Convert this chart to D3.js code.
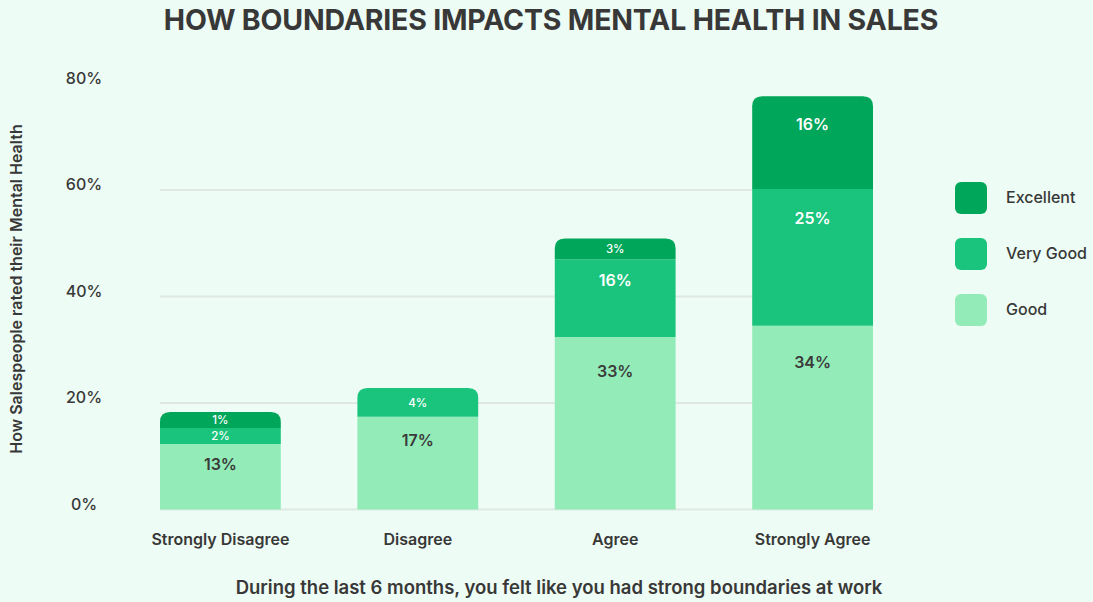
<!DOCTYPE html>
<html>
<head>
<meta charset="utf-8">
<script src="https://cdn.jsdelivr.net/npm/d3@7"></script>
<style>
  html, body { margin: 0; padding: 0; background: #edfcf4; }
  svg { display: block; }
  text { font-family: Inter, "Open Sans", sans-serif; fill: #383838; }
</style>
</head>
<body>
<svg id="chart" width="1093" height="602"></svg>
<script>
// ---- data ----
const categories = ["Strongly Disagree", "Disagree", "Agree", "Strongly Agree"];
const seriesNames = ["Good", "Very Good", "Excellent"];
const good = [12.3, 17.4, 32.4, 34.5];
const veryGood = [3.0, 5.4, 14.6, 25.7];
const excellent = [3.0, 0, 3.9, 17.4];
const goodLabels = ["13%", "17%", "33%", "34%"];
const veryGoodLabels = ["2%", "4%", "16%", "25%"];
const excellentLabels = ["1%", "", "3%", "16%"];
const yTicks = [0, 20, 40, 60, 80];
const colors = ["#93ecb8", "#1bc47d", "#00a65a"];
const legendOrder = ["Excellent", "Very Good", "Good"];

const svg = d3.select("#chart");

const x = d3.scaleBand().domain(categories).range([160, 873]).paddingInner(0.388).paddingOuter(0);
const y = d3.scaleLinear().domain([0, 80]).range([509.5, 83.5]);

// gridlines
svg.append("g").selectAll("line").data(yTicks.filter(d => d < 80)).join("line")
  .attr("x1", 160).attr("x2", 873)
  .attr("y1", d => y(d)).attr("y2", d => y(d))
  .attr("stroke", "#e0e8e3").attr("stroke-width", 2);

// y tick labels
svg.append("g").selectAll("text").data(yTicks).join("text")
  .attr("x", 84).attr("y", d => y(d) - 4)
  .attr("text-anchor", "middle").attr("dominant-baseline", "middle")
  .style("font-size", "16px").style("font-weight", 500)
  .text(d => d + "%");

// stacked data
const rows = categories.map((c, i) => ({ cat: c, Good: good[i], "Very Good": veryGood[i], Excellent: excellent[i],
  labels: { Good: goodLabels[i], "Very Good": veryGoodLabels[i], Excellent: excellentLabels[i] } }));
const stack = d3.stack().keys(seriesNames)(rows);

const bw = x.bandwidth();
const r = 10;
stack.forEach((layer, li) => {
  layer.forEach((seg, i) => {
    const v = seg[1] - seg[0];
    if (v <= 0) return;
    const x0 = x(categories[i]);
    const yTop = y(seg[1]), yBot = y(seg[0]);
    const h = yBot - yTop;
    const isTop = stack.slice(li + 1).every(l => (l[i][1] - l[i][0]) <= 0);
    let path;
    if (isTop) {
      path = `M${x0},${yBot} L${x0},${yTop + r} Q${x0},${yTop} ${x0 + r},${yTop} L${x0 + bw - r},${yTop} Q${x0 + bw},${yTop} ${x0 + bw},${yTop + r} L${x0 + bw},${yBot} Z`;
    } else {
      path = `M${x0},${yBot} L${x0},${yTop} L${x0 + bw},${yTop} L${x0 + bw},${yBot} Z`;
    }
    svg.append("path").attr("d", path).attr("fill", colors[li]);
    const label = rows[i].labels[layer.key];
    if (!label) return;
    const small = h < 35;
    const ly = small ? (yTop + yBot) / 2 + 1 : yTop + 12 + 0.14 * h + (isTop ? 4 : 0);
    svg.append("text")
      .attr("x", x0 + bw / 2).attr("y", ly)
      .attr("text-anchor", "middle").attr("dominant-baseline", "middle")
      .style("font-size", small ? "11.5px" : "16px")
      .style("font-weight", small ? 500 : 600)
      .style("fill", li === 0 ? "#3a3a3a" : "#ffffff")
      .text(label);
  });
});

// x labels
svg.append("g").selectAll("text").data(categories).join("text")
  .attr("x", d => x(d) + bw / 2).attr("y", 541)
  .attr("text-anchor", "middle").attr("dominant-baseline", "middle")
  .style("font-size", "16px").style("font-weight", 600)
  .text(d => d);

// title
svg.append("text").attr("x", 551).attr("y", 22)
  .attr("text-anchor", "middle").attr("dominant-baseline", "middle")
  .style("font-size", "28.5px").style("font-weight", 700).style("letter-spacing", "-0.2px")
  .text("HOW BOUNDARIES IMPACTS MENTAL HEALTH IN SALES");

// x axis title
svg.append("text").attr("x", 559).attr("y", 589)
  .attr("text-anchor", "middle").attr("dominant-baseline", "middle")
  .style("font-size", "18.5px").style("font-weight", 600)
  .text("During the last 6 months, you felt like you had strong boundaries at work");

// y axis title
svg.append("text").attr("transform", "translate(18,289) rotate(-90)")
  .attr("text-anchor", "middle").attr("dominant-baseline", "middle")
  .style("font-size", "16px").style("font-weight", 600)
  .text("How Salespeople rated their Mental Health");

// legend
const lg = svg.append("g").selectAll("g").data(legendOrder).join("g")
  .attr("transform", (d, i) => `translate(955,${182 + i * 56})`);
lg.append("rect").attr("width", 32).attr("height", 32).attr("rx", 6)
  .attr("fill", d => colors[seriesNames.indexOf(d)]);
lg.append("text").attr("x", 51).attr("y", 17).attr("dominant-baseline", "middle")
  .style("font-size", "16px").style("font-weight", 500)
  .text(d => d);
</script>
</body>
</html>
